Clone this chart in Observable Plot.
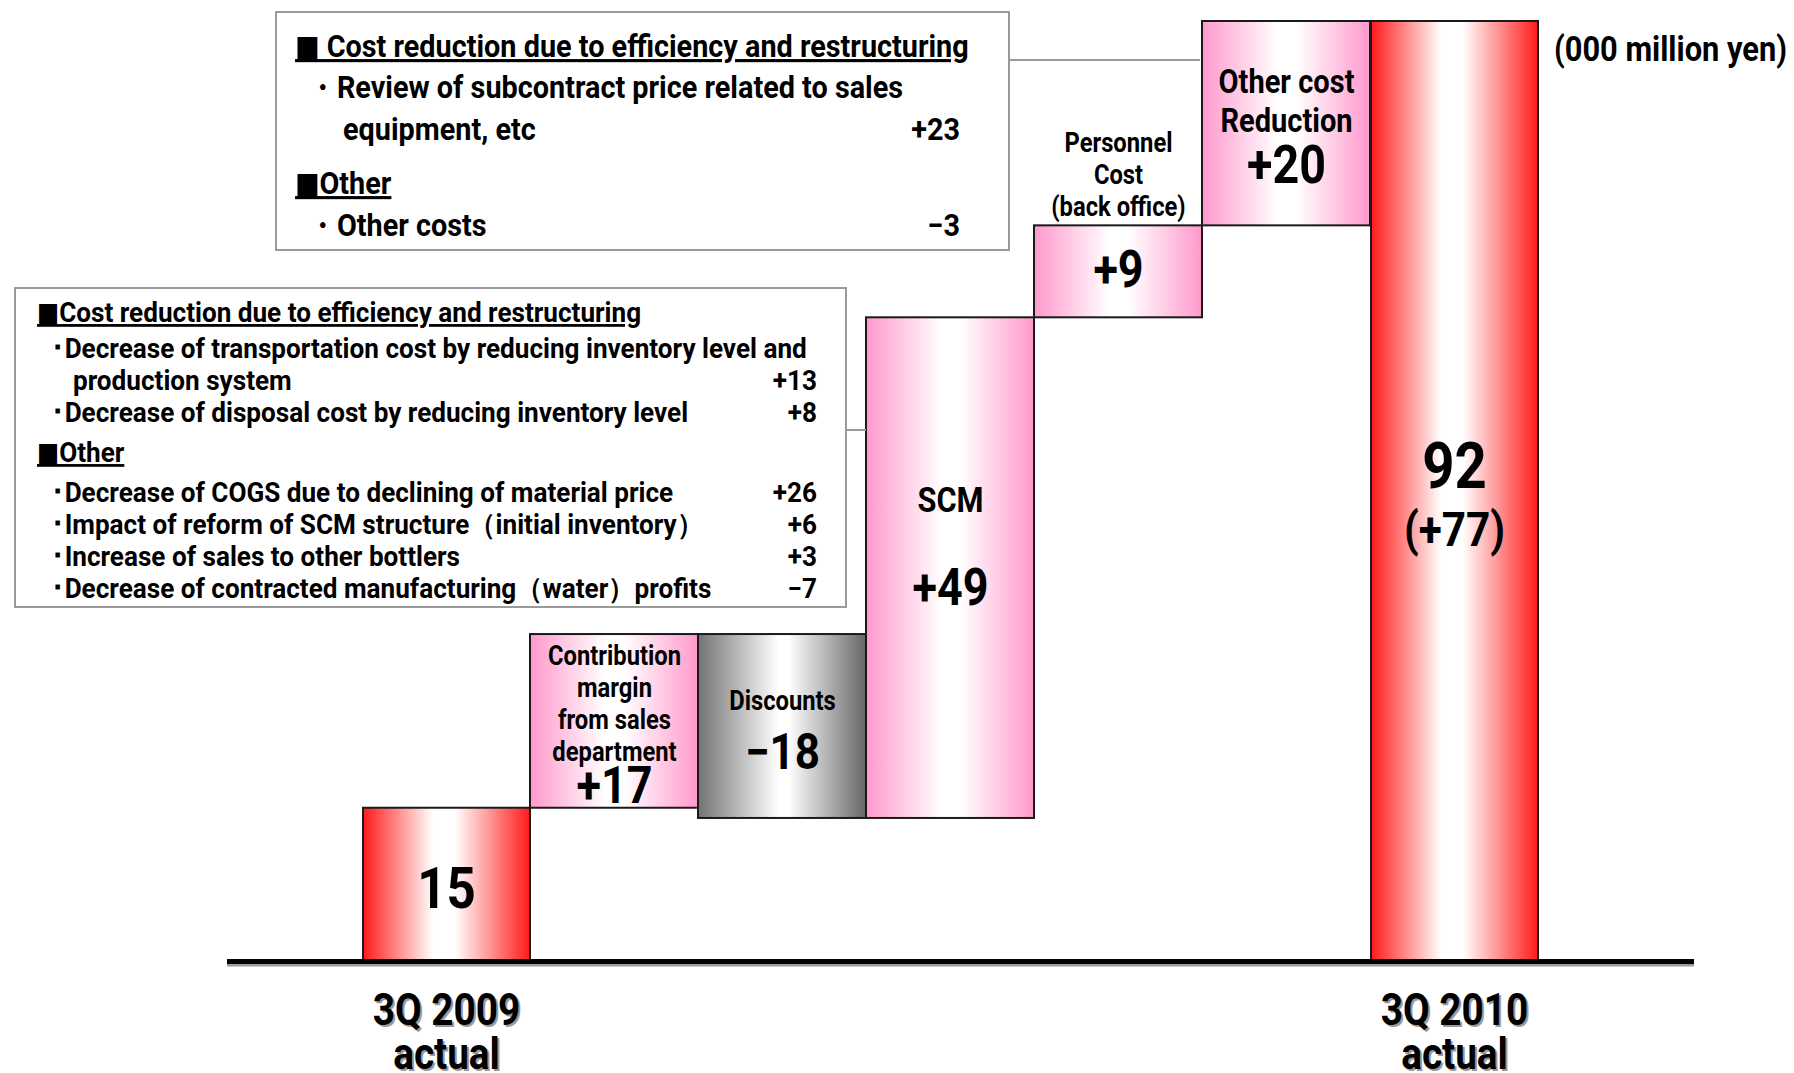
<!DOCTYPE html>
<html>
<head>
<meta charset="utf-8">
<script src="https://cdn.jsdelivr.net/npm/d3@7"></script>
<script src="https://cdn.jsdelivr.net/npm/@observablehq/plot@0.6"></script>
<style>
html, body { margin: 0; padding: 0; background: #fff; }
#wrap { position: relative; width: 1794px; height: 1073px; overflow: hidden; background: #fff; }
#wrap svg { position: absolute; left: 0; top: 0; }
</style>
</head>
<body>
<div id="wrap"></div>
<script>
// ---------- data ----------
const steps = ["3Q 2009 actual", "Contribution margin from sales department", "Discounts", "SCM",
  "Personnel Cost (back office)", "Other cost Reduction", "3Q 2010 actual"];
const changes = [15, 17, -18, 49, 9, 20, 92];
const kinds = ["total", "up", "down", "up", "up", "up", "total"];
const valueLabels = ["15", "+17", "−18", "+49", "+9", "+20", "92"];
const nameLabels = ["", "Contribution\nmargin\nfrom sales\ndepartment", "Discounts", "SCM",
  "Personnel\nCost\n(back office)", "Other cost\nReduction", ""];
const axisLabels = ["3Q 2009\nactual", "", "", "", "", "", "3Q 2010\nactual"];
const totalNote = "(+77)";
const unitLabel = "(000 million yen)";

const box1Text = ["■ Cost reduction due to efficiency and restructuring",
  "・Review of subcontract price related to sales", "equipment, etc", "■Other", "・Other costs"];
const box1Values = ["", "", "+23", "", "−3"];
const box1Kinds = ["hdr", "item", "cont", "hdr", "item"];

const box2Text = ["■Cost reduction due to efficiency and restructuring",
  "･Decrease of transportation cost by reducing inventory level and", "production system",
  "･Decrease of disposal cost by reducing inventory level", "■Other",
  "･Decrease of COGS due to declining of material price",
  "･Impact of reform of SCM structure（initial inventory）",
  "･Increase of sales to other bottlers",
  "･Decrease of contracted manufacturing（water）profits"];
const box2Values = ["", "", "+13", "+8", "", "+26", "+6", "+3", "−7"];
const box2Kinds = ["hdr", "item", "cont", "item", "hdr", "item", "item", "item", "item"];

// ---------- build rows ----------
let running = 0;
const rows = steps.map((step, i) => {
  let y1, y2;
  if (kinds[i] === "total") { y1 = 0; y2 = changes[i]; running = changes[i]; }
  else { y1 = running; y2 = running + changes[i]; running = y2; }
  return { step, i, kind: kinds[i], y1, y2, lo: Math.min(y1, y2), hi: Math.max(y1, y2),
    mid: (y1 + y2) / 2, value: valueLabels[i], name: nameLabels[i], axis: axisLabels[i] };
});

// ---------- layout (positions / sizes / styles only) ----------
const FONT = "Roboto, 'DejaVu Sans Condensed', sans-serif";
const SX = 0.88; // horizontal compression to mimic the condensed gothic face
const valueLayout = [
  { at: "mid", dy: 5, size: 58 }, { at: "lo", dy: -22, size: 51 }, { at: "mid", dy: 26, size: 50 },
  { at: "mid", dy: 21, size: 51 }, { at: "mid", dy: -1, size: 51 }, { at: "mid", dy: 42, size: 53 },
  { at: "mid", dy: -24, size: 64 }];
const nameLayout = [null, { at: "hi", dy: 68, size: 27, lh: 1.19 }, { at: "hi", dy: 67, size: 27, lh: 1 },
  { at: "hi", dy: 183, size: 35, lh: 1 }, { at: "hi", dy: -52, size: 27, lh: 1.19 },
  { at: "hi", dy: 79, size: 33, lh: 1.18 }, null];

const fillFor = { total: "url(#g-red)", up: "url(#g-pink)", down: "url(#g-gray)" };

const marks = [];
for (const k of ["total", "up", "down"]) {
  marks.push(Plot.rectY(rows.filter(d => d.kind === k), {
    x: "step", y1: "y1", y2: "y2", fill: fillFor[k], stroke: "#1a1a1a", strokeWidth: 2,
    insetLeft: k === "total" ? 1 : 0, insetRight: 0
  }));
}
marks.push(Plot.ruleY([0], { stroke: "#9a9a9a", strokeWidth: 4, dy: 3 }));
marks.push(Plot.ruleY([0], { stroke: "#000", strokeWidth: 5 }));
rows.forEach((d, i) => {
  const L = valueLayout[i];
  marks.push(Plot.text([d], { x: "step", y: L.at, text: "value", dy: L.dy, fontSize: L.size,
    fontFamily: FONT, fontWeight: "bold", fill: "#000" }));
  const N = nameLayout[i];
  if (N) marks.push(Plot.text([d], { x: "step", y: N.at, text: "name", dy: N.dy, fontSize: N.size,
    lineHeight: N.lh, fontFamily: FONT, fontWeight: "bold", fill: "#000" }));
});
marks.push(Plot.text(rows.filter(d => d.i === rows.length - 1), { x: "step", y: "mid", text: () => totalNote,
  dy: 39, fontSize: 48, fontFamily: FONT, fontWeight: "bold", fill: "#000" }));
const axisRows = rows.filter(d => d.axis);
marks.push(Plot.text(axisRows, { x: "step", y: () => 0, text: "axis", dx: 2, dy: 73, fontSize: 44, lineHeight: 1,
  fontFamily: FONT, fontWeight: "bold", fill: "#9a9a9a" }));
marks.push(Plot.text(axisRows, { x: "step", y: () => 0, text: "axis", dy: 71, fontSize: 44, lineHeight: 1,
  fontFamily: FONT, fontWeight: "bold", fill: "#000" }));

const svg = Plot.plot({
  width: 1794, height: 1073,
  marginTop: 21, marginBottom: 112, marginLeft: 227, marginRight: 100,
  x: { type: "band", domain: steps, paddingInner: 0, paddingOuter: 0.866, align: 0.464, axis: null },
  y: { domain: [0, 92], axis: null },
  style: { background: "white", fontFamily: FONT, overflow: "visible" },
  marks
});

// condense chart texts horizontally
svg.querySelectorAll('g[aria-label="text"] text').forEach(t => {
  let tr = t.getAttribute("transform");
  if (!tr) {
    tr = `translate(${t.getAttribute("x") || 0},${t.getAttribute("y") || 0})`;
    t.removeAttribute("x"); t.removeAttribute("y");
  }
  t.setAttribute("transform", tr + ` scale(${SX},1)`);
});

// gradients
const ns = "http://www.w3.org/2000/svg";
const defs = document.createElementNS(ns, "defs");
function grad(id, stops) {
  const g = document.createElementNS(ns, "linearGradient");
  g.setAttribute("id", id); g.setAttribute("x1", "0"); g.setAttribute("x2", "1");
  g.setAttribute("y1", "0"); g.setAttribute("y2", "0");
  for (const [o, c] of stops) {
    const s = document.createElementNS(ns, "stop");
    s.setAttribute("offset", o); s.setAttribute("stop-color", c); g.appendChild(s);
  }
  defs.appendChild(g);
}
grad("g-red", [[0, "#ff1a1a"], [0.42, "#ffffff"], [0.55, "#ffffff"], [1, "#ff1a1a"]]);
grad("g-pink", [[0, "#ff99cc"], [0.45, "#ffffff"], [0.56, "#ffffff"], [1, "#ff99cc"]]);
grad("g-gray", [[0, "#737373"], [0.48, "#ffffff"], [0.54, "#ffffff"], [1, "#666666"]]);
svg.insertBefore(defs, svg.firstChild);

const wrap = document.getElementById("wrap");
wrap.appendChild(svg);

// ---------- annotation overlay ----------
const over = d3.select(wrap).append("svg")
  .attr("width", 1794).attr("height", 1073)
  .style("pointer-events", "none")
  .attr("font-family", FONT).attr("font-weight", "bold");

const GRAY = "#9a9a9a";
over.append("line").attr("x1", 1009).attr("x2", 1200).attr("y1", 60).attr("y2", 60).attr("stroke", GRAY).attr("stroke-width", 2);
over.append("line").attr("x1", 846).attr("x2", 866).attr("y1", 430).attr("y2", 430).attr("stroke", GRAY).attr("stroke-width", 2);

function drawBox(texts, values, kindsArr, cfg) {
  const g = over.append("g");
  g.append("rect").attr("x", cfg.x).attr("y", cfg.y).attr("width", cfg.w).attr("height", cfg.h)
    .attr("fill", "#fff").attr("stroke", GRAY).attr("stroke-width", 2);
  texts.forEach((t, i) => {
    const k = kindsArr[i];
    const x = k === "item" ? cfg.itemX : k === "cont" ? cfg.contX : cfg.textX;
    g.append("text").attr("transform", `translate(${x},${cfg.baselines[i]}) scale(${cfg.sx},1)`)
      .attr("font-size", cfg.size).attr("fill", "#000")
      .style("text-decoration", k === "hdr" ? "underline" : null)
      .text(t);
    if (values[i]) g.append("text").attr("transform", `translate(${cfg.valueX},${cfg.baselines[i]}) scale(${cfg.sx},1)`)
      .attr("font-size", cfg.size).attr("text-anchor", "end").attr("fill", "#000").text(values[i]);
  });
}
drawBox(box1Text, box1Values, box1Kinds, { x: 276, y: 12, w: 733, h: 238, size: 31, sx: 0.93,
  textX: 295, itemX: 308, contX: 343, valueX: 960, baselines: [57, 98, 140, 194, 236] });
drawBox(box2Text, box2Values, box2Kinds, { x: 15, y: 288, w: 831, h: 319, size: 27.5, sx: 0.95,
  textX: 37, itemX: 51, contX: 73, valueX: 817, baselines: [322, 358, 390, 422, 462, 502, 534, 566, 598] });

over.append("text").attr("transform", `translate(1554,61) scale(${SX},1)`)
  .attr("font-size", 35).attr("fill", "#000").text(unitLabel);
</script>
</body>
</html>
